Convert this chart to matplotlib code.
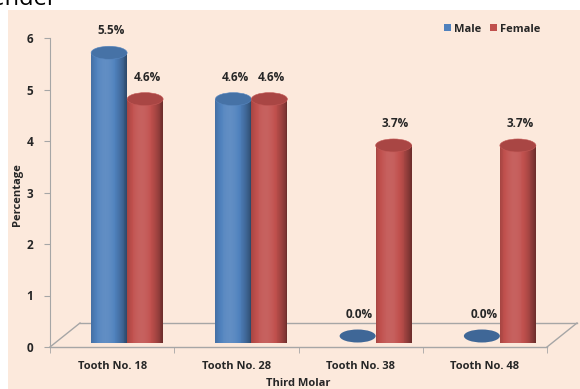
import numpy as np
import matplotlib
matplotlib.use("Agg")
import matplotlib.pyplot as plt
from matplotlib.patches import Rectangle, Ellipse, Polygon, Patch
from matplotlib.transforms import ScaledTranslation
from matplotlib.colors import to_rgb

teeth = ["Tooth No. 18", "Tooth No. 28", "Tooth No. 38", "Tooth No. 48"]
male = [5.5, 4.6, 0.0, 0.0]
female = [4.6, 4.6, 3.7, 3.7]
yticks = [0, 1, 2, 3, 4, 5, 6]

blue = "#4F81BD"
red = "#C0504D"
txt = "#262626"
grid_c = "#A6A6A6"

plt.rcParams['font.family'] = ['Open Sans', 'DejaVu Sans']

W, H = 580, 389
fig = plt.figure(figsize=(W / 100, H / 100), dpi=100)
fig.patch.set_facecolor("white")
fig.patches.append(Rectangle((8 / W, 0), 1, (H - 10) / H, transform=fig.transFigure,
                             facecolor="#FCE9DC", edgecolor="none", zorder=-10))
fig.text(57 / W, 1 - 5 / H, "Gender", ha="right", va="baseline", fontsize=17,
         color="black")

ax = fig.add_axes([50 / W, 42 / H, 497 / W, 309 / H])
ax.set_facecolor("none")
ax.set_xlim(-0.5, 3.5)
ax.set_ylim(0, 6)
for s in ["top", "right", "bottom"]:
    ax.spines[s].set_visible(False)
ax.spines["left"].set_color(grid_c)
ax.set_yticks(yticks)
ax.tick_params(axis="y", length=4, color=grid_c, labelsize=8.5, labelcolor=txt, pad=8)
for lab in ax.get_yticklabels():
    lab.set_fontweight("bold")
ax.set_xticks(range(len(teeth)), teeth, fontsize=8, fontweight="bold", color=txt)
ax.tick_params(axis="x", length=0, pad=10)
ax.set_xticks(np.arange(-0.5, 4.0, 1.0), minor=True)
ax.tick_params(axis="x", which="minor", length=4, color=grid_c)

# px per data unit
ppx = 497 / 4.0
ppy = 309 / 6.0

# floor in perspective
dx, dy = 30 / ppx, 24 / ppy
ax.plot([-0.5, 3.5], [0, 0], color=grid_c, lw=1, clip_on=False, zorder=1)
ax.plot([-0.5 + dx, 3.5 + dx], [dy, dy], color=grid_c, lw=1, clip_on=False, zorder=1)
ax.plot([-0.5, -0.5 + dx], [0, dy], color=grid_c, lw=1, clip_on=False, zorder=1)
ax.plot([3.5, 3.5 + dx], [0, dy], color=grid_c, lw=1, clip_on=False, zorder=1)

tr = ax.transData + ScaledTranslation(15 / 100, 11 / 100, fig.dpi_scale_trans)


def shade(c, k):
    c = np.array(to_rgb(c))
    if k >= 0:
        return tuple(c + (1 - c) * k)
    return tuple(c * (1 + k))


def cylinder(xc, h, w, eh, color):
    if h <= 0:
        ax.add_patch(Ellipse((xc, 0), w, eh, transform=tr, facecolor=shade(color, -0.2),
                             edgecolor="none", zorder=3, clip_on=False))
        return
    t = np.linspace(np.pi, 2 * np.pi, 60)
    verts = [(xc - w / 2, h)] + list(zip(xc + w / 2 * np.cos(t), eh / 2 * np.sin(t))) + [(xc + w / 2, h)]
    body = Polygon(verts, closed=True, transform=tr, facecolor="none", edgecolor="none")
    ax.add_patch(body)
    n = 40
    for i in range(n):
        u = (i + 0.5) / n
        k = 0.1 - 0.55 * ((u - 0.4) / 0.6) ** 2
        r = Rectangle((xc - w / 2 + i * w / n, -eh / 2), w / n * 1.1, h + eh / 2,
                      transform=tr, facecolor=shade(color, k), edgecolor="none",
                      zorder=3, clip_on=False)
        r.set_clip_path(body)
        ax.add_patch(r)
    ax.add_patch(Ellipse((xc, h), w, eh, transform=tr, facecolor=shade(color, -0.12),
                         edgecolor=shade(color, 0.05), lw=0.4, zorder=4, clip_on=False))


w = 36 / ppx
eh = 13 / ppy
for i, (m, f) in enumerate(zip(male, female)):
    cylinder(i - w / 2, m, w, eh, blue)
    cylinder(i + w / 2, f, w, eh, red)
    ax.annotate(f"{m:.1f}%", xy=(i - w / 2, m), xycoords=tr, xytext=(2, 22),
                textcoords="offset pixels", ha="center", va="center",
                fontsize=8.5, fontweight="bold", color=txt, annotation_clip=False)
    ax.annotate(f"{f:.1f}%", xy=(i + w / 2, f), xycoords=tr, xytext=(2, 22),
                textcoords="offset pixels", ha="center", va="center",
                fontsize=8.5, fontweight="bold", color=txt, annotation_clip=False)

fig.text(18 / W, 1 - 195 / H, "Percentage", rotation=90, ha="center", va="center",
         fontsize=8, fontweight="bold", color=txt)
fig.text(298 / W, 1 - 383 / H, "Third Molar", ha="center", va="center",
         fontsize=8, fontweight="bold", color=txt)

handles = [Patch(facecolor=blue), Patch(facecolor=red)]
fig.legend(handles, ["Male", "Female"], loc="center left",
           bbox_to_anchor=(444 / W, 1 - 29 / H), ncol=2, frameon=False,
           handlelength=0.6, handleheight=0.6, handletextpad=0.3, columnspacing=0.8,
           prop={"size": 8, "weight": "bold"}, labelcolor=txt, borderpad=0, borderaxespad=0)

fig.savefig("out.png", dpi=100)
